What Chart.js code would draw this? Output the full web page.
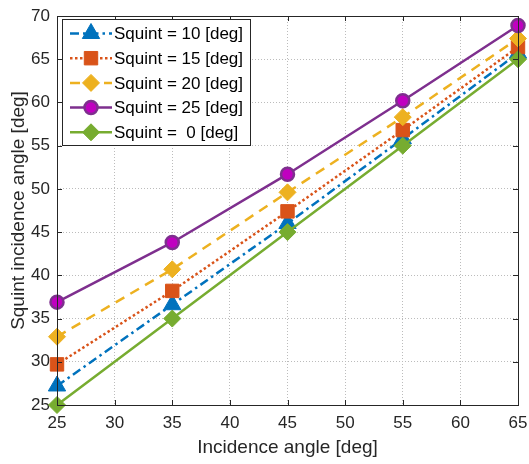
<!DOCTYPE html>
<html>
<head>
<meta charset="utf-8">
<script src="https://cdn.jsdelivr.net/npm/chart.js@4.4.1/dist/chart.umd.min.js"></script>
<style>
  html, body { margin: 0; padding: 0; background: #fff; }
</style>
</head>
<body>
<canvas id="squintChart" width="529" height="464"></canvas>
<script>
// incidence angles (x) and squint incidence angle per squint (y)
const incidenceAngles = [25, 35, 45, 55, 65];
const squint10 = [27.2, 36.6, 46.0, 55.8, 65.7];
const squint15 = [29.7, 38.2, 47.4, 56.8, 66.4];
const squint20 = [32.9, 40.7, 49.6, 58.3, 67.4];
const squint25 = [36.9, 43.8, 51.7, 60.2, 68.9];
const squint0 = [25, 35, 45, 55, 65];
const xTicks = [25, 30, 35, 40, 45, 50, 55, 60, 65];
const yTicks = [25, 30, 35, 40, 45, 50, 55, 60, 65, 70];

const FONT = "'Liberation Sans', Arial, Helvetica, sans-serif";
const AXIS_COLOR = '#262626';

function toPoints(ys) {
    return incidenceAngles.map((x, i) => ({x: x, y: ys[i]}));
}

// MATLAB draws later lines on top, so the legend order is kept separately
const legendOrder = ['Squint = 10 [deg]', 'Squint = 15 [deg]', 'Squint = 20 [deg]', 'Squint = 25 [deg]', 'Squint =  0 [deg]'];

const datasets = [
    {
        label: 'Squint = 10 [deg]',
        data: toPoints(squint10),
        borderColor: '#0072BD',
        backgroundColor: '#0072BD',
        borderDash: [9, 4, 2.5, 4],
        pointStyle: 'triangle',
        pointRadius: 10,
        pointBorderWidth: 1,
        order: 4
    },
    {
        label: 'Squint = 15 [deg]',
        data: toPoints(squint15),
        borderColor: '#D95319',
        backgroundColor: '#D95319',
        borderDash: [2.5, 2.5],
        pointStyle: 'rect',
        pointRadius: 9.5,
        pointBorderWidth: 1,
        order: 3
    },
    {
        label: 'Squint = 20 [deg]',
        data: toPoints(squint20),
        borderColor: '#EDB120',
        backgroundColor: '#EDB120',
        borderDash: [10, 7],
        pointStyle: 'rectRot',
        pointRadius: 8.5,
        pointBorderWidth: 1,
        order: 2
    },
    {
        label: 'Squint = 25 [deg]',
        data: toPoints(squint25),
        borderColor: '#7E2F8E',
        backgroundColor: '#C000C0',
        pointBorderColor: '#7E2F8E',
        borderDash: [],
        pointStyle: 'circle',
        pointRadius: 6.5,
        pointBorderWidth: 2.5,
        order: 1
    },
    {
        label: 'Squint =  0 [deg]',
        data: toPoints(squint0),
        borderColor: '#77AC30',
        backgroundColor: '#77AC30',
        borderDash: [],
        pointStyle: 'rectRot',
        pointRadius: 8.5,
        pointBorderWidth: 1,
        order: 0
    }
].map(ds => Object.assign({
    borderWidth: 2.5,
    pointBackgroundColor: ds.backgroundColor,
    pointBorderColor: ds.pointBorderColor || ds.borderColor,
    pointHoverRadius: ds.pointRadius,
    clip: false,
    fill: false,
    tension: 0
}, ds));

// box round the axes, inward tick marks and the legend, MATLAB style
const matlabAxes = {
    id: 'matlabAxes',
    afterDraw(chart) {
        const {ctx, chartArea: a, scales} = chart;
        ctx.save();
        ctx.strokeStyle = AXIS_COLOR;
        ctx.lineWidth = 1;
        ctx.setLineDash([]);
        ctx.strokeRect(a.left + 0.5, a.top + 0.5, a.right - a.left, a.bottom - a.top);
        ctx.beginPath();
        const tl = 5;
        xTicks.forEach(v => {
            const px = Math.round(scales.x.getPixelForValue(v)) + 0.5;
            ctx.moveTo(px, a.bottom); ctx.lineTo(px, a.bottom - tl);
            ctx.moveTo(px, a.top); ctx.lineTo(px, a.top + tl);
        });
        yTicks.forEach(v => {
            const py = Math.round(scales.y.getPixelForValue(v)) + 0.5;
            ctx.moveTo(a.left, py); ctx.lineTo(a.left + tl, py);
            ctx.moveTo(a.right, py); ctx.lineTo(a.right - tl, py);
        });
        ctx.stroke();

        // legend
        const box = {x: 62, y: 19, w: 188, h: 126};
        ctx.fillStyle = '#fff';
        ctx.fillRect(box.x, box.y, box.w, box.h);
        ctx.strokeStyle = AXIS_COLOR;
        ctx.strokeRect(box.x + 0.5, box.y + 0.5, box.w, box.h);
        ctx.font = '17px ' + FONT;
        ctx.textBaseline = 'middle';
        ctx.textAlign = 'left';
        legendOrder.forEach((label, i) => {
            const ds = chart.data.datasets.find(d => d.label === label);
            const y = 33.5 + i * 24.7;
            ctx.save();
            ctx.strokeStyle = ds.borderColor;
            ctx.lineWidth = ds.borderWidth;
            ctx.setLineDash(ds.borderDash);
            ctx.beginPath();
            ctx.moveTo(70, y);
            ctx.lineTo(112, y);
            ctx.stroke();
            ctx.setLineDash([]);
            ctx.fillStyle = ds.pointBackgroundColor;
            ctx.strokeStyle = ds.pointBorderColor;
            ctx.lineWidth = ds.pointBorderWidth;
            Chart.helpers.drawPoint(ctx, {
                pointStyle: ds.pointStyle,
                radius: ds.pointRadius,
                rotation: 0,
                borderWidth: ds.pointBorderWidth
            }, 91, y);
            ctx.restore();
            ctx.fillStyle = '#000';
            ctx.fillText(label, 114, y + 1);
        });
        ctx.restore();
    }
};

const ctx = document.getElementById('squintChart');
new Chart(ctx, {
    type: 'line',
    data: {datasets: datasets},
    options: {
        responsive: false,
        animation: false,
        events: [],
        layout: {padding: {top: 16, right: 9, left: 0, bottom: 0}},
        plugins: {
            legend: {display: false},
            tooltip: {enabled: false}
        },
        scales: {
            x: {
                type: 'linear',
                min: 25,
                max: 65,
                afterBuildTicks: scale => { scale.ticks = xTicks.map(v => ({value: v})); },
                afterFit: scale => {
                    scale.height = 59;
                    scale.paddingLeft = 0;
                    scale.paddingRight = 0;
                },
                ticks: {
                    color: AXIS_COLOR,
                    font: {family: FONT, size: 17},
                    padding: 8,
                    maxRotation: 0
                },
                grid: {
                    color: '#bcbcbc',
                    drawTicks: false,
                    lineWidth: 1
                },
                border: {display: false, dash: [1, 2]},
                title: {
                    display: true,
                    text: 'Incidence angle [deg]',
                    color: AXIS_COLOR,
                    font: {family: FONT, size: 19},
                    padding: {top: 4, bottom: 5}
                }
            },
            y: {
                type: 'linear',
                min: 25,
                max: 70,
                afterBuildTicks: scale => { scale.ticks = yTicks.map(v => ({value: v})); },
                afterFit: scale => {
                    scale.width = 57;
                    scale.paddingTop = 0;
                    scale.paddingBottom = 0;
                },
                ticks: {
                    color: AXIS_COLOR,
                    font: {family: FONT, size: 17},
                    padding: 7
                },
                grid: {
                    color: '#bcbcbc',
                    drawTicks: false,
                    lineWidth: 1
                },
                border: {display: false, dash: [1, 2]},
                title: {
                    display: true,
                    text: 'Squint incidence angle [deg]',
                    color: AXIS_COLOR,
                    font: {family: FONT, size: 19},
                    padding: {top: 7, bottom: 4}
                }
            }
        }
    },
    plugins: [matlabAxes]
});
</script>
</body>
</html>
